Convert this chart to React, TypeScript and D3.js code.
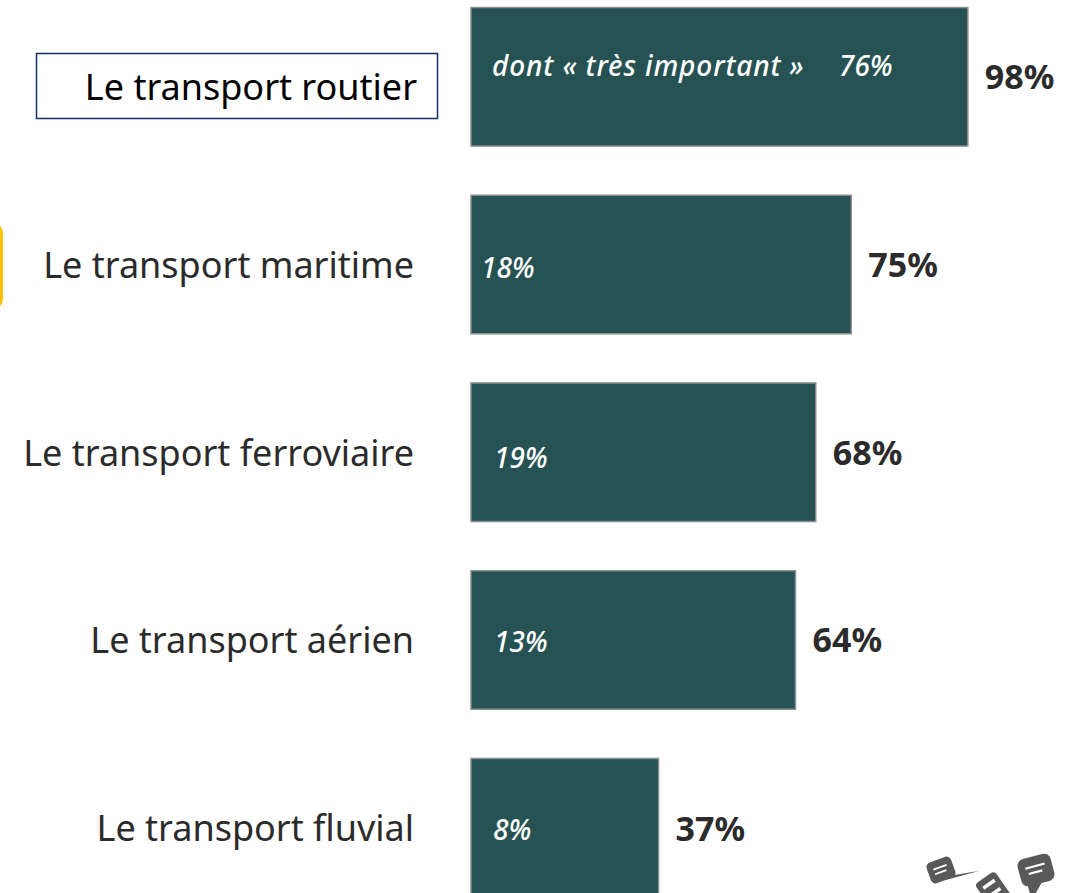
import React from "react";
import * as d3 from "d3";

const categories = ["Le transport routier", "Le transport maritime", "Le transport ferroviaire", "Le transport aérien", "Le transport fluvial"];
const totals = [98, 75, 68, 64, 37];
const innerCaption = "dont « très important »";
const innerValues = [76, 18, 19, 13, 8];
const innerX = [839, 481, 494, 494, 493];
const innerYOffset = [-1, 13, 15.5, 12, 12];
const labelYOffset = [23, 13.5, 13.5, 13, 13];
const totalYOffset = [12, 12, 12.5, 12.5, 13];

const W = 1069;
const H = 893;
const FONT = "'Noto Sans', 'DejaVu Sans', sans-serif";

export default function App() {
  const x = d3.scaleLinear().domain([0, 100]).range([471, 978]);
  const y = d3.scaleBand<string>().domain(categories).range([7.5, 897]).paddingInner(0.262).paddingOuter(0);
  return (
    <svg width={W} height={H} viewBox={`0 0 ${W} ${H}`} style={{ position: "absolute", left: 0, top: 0, display: "block" }}>
      <rect x={-20} y={224} width={21.5} height={84} rx={9} fill="#fff" stroke="#FFC000" strokeWidth={3} />
      <rect x={36.5} y={53.5} width={401} height={65} fill="#fff" stroke="#13306b" strokeWidth={1.5} />
      {categories.map((c, i) => {
        const by = y(c)!;
        const bh = y.bandwidth();
        const cy = by + bh / 2;
        return (
          <g key={c}>
            <rect x={x(0)} y={by} width={x(totals[i]) - x(0)} height={bh} fill="#265254" stroke="#8a8f8f" strokeWidth={1.5} />
            <text x={i === 0 ? 417 : 414} y={cy + labelYOffset[i]} textAnchor="end" fontFamily={FONT} fontSize={36}
              fill={i === 0 ? "#000" : "#2b2b2b"}>{c}</text>
            {i === 0 && (
              <text x={492} y={cy + innerYOffset[i]} fontFamily={FONT} fontSize={28} fontStyle="italic" fontWeight={500} letterSpacing={0.9} fill="#fff">{innerCaption}</text>
            )}
            <text x={innerX[i]} y={cy + innerYOffset[i]} fontFamily={FONT} fontSize={28} fontStyle="italic" fontWeight={500} fill="#fff">{innerValues[i]}%</text>
            <text x={x(totals[i]) + 17} y={cy + totalYOffset[i]} fontFamily={FONT} fontSize={34} fontWeight="bold" fill="#2b2b2b">{totals[i]}%</text>
          </g>
        );
      })}
      <g fill="#595959">
        <g transform="translate(941 870) rotate(-20)">
          <rect x={-13} y={-11} width={26} height={22} rx={5} />
          <path d="M4 8 L36 14 L0 11 Z" />
          <path d="M-7 -3 L7 -3 M-7 2 L5 2" stroke="#fff" strokeWidth={1.8} />
        </g>
        <g transform="translate(993 890) rotate(-35)">
          <rect x={-12} y={-15} width={24} height={32} rx={4} />
          <path d="M-7 -7 L7 -7 M-7 3 L7 3" stroke="#fff" strokeWidth={3.5} />
        </g>
        <g transform="translate(1036 870) rotate(-15)">
          <rect x={-17} y={-14} width={34} height={28} rx={7} />
          <path d="M-12 12 L-12 28 L4 12 Z" />
          <path d="M-10 -4 L10 -4 M-8 2 L6 2" stroke="#fff" strokeWidth={2.2} />
        </g>
      </g>
    </svg>
  );
}
